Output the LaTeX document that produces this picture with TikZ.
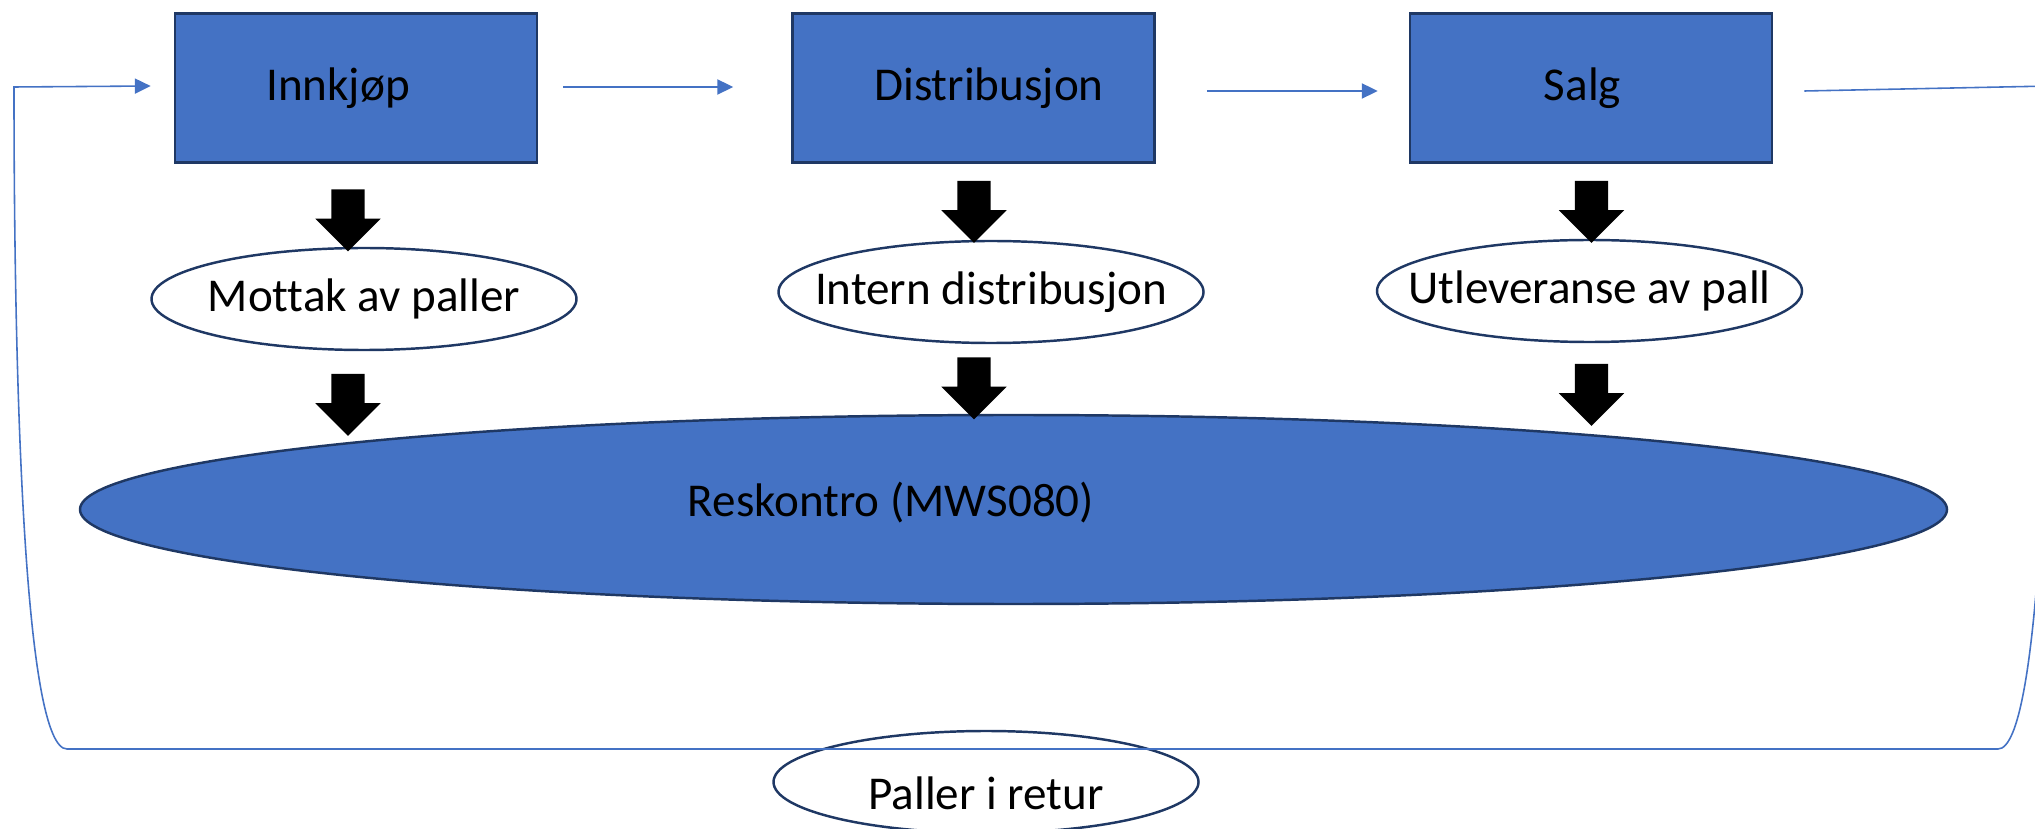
\documentclass[tikz,border=0pt]{standalone}
\usepackage{fontspec}
\setmainfont{Carlito}[Ligatures=NoCommon]
\usepackage{tikz}
\usetikzlibrary{shapes,arrows,arrows.meta}
\definecolor{boxblue}{HTML}{4472C4}
\definecolor{navy}{HTML}{1F3864}
\tikzstyle{box} = [rectangle, draw=navy, line width=0.75pt, fill=boxblue,
    minimum width=3.62cm, minimum height=1.49cm, inner sep=0pt]
\tikzstyle{oval} = [ellipse, draw=navy, line width=0.7pt, fill=white,
    minimum width=4.25cm, minimum height=1.02cm, inner sep=0pt]
\tikzstyle{ledger} = [ellipse, draw=navy, line width=0.7pt, fill=boxblue,
    minimum width=18.67cm, minimum height=1.89cm, inner sep=0pt]
\tikzstyle{blockdown} = [single arrow, fill=black, rotate=-90, inner xsep=0pt,
    inner ysep=0.16cm, single arrow head extend=0.16cm, minimum height=0.62cm]
\tikzstyle{flow} = [draw=boxblue, line width=0.45pt,
    -{Triangle[length=4.5pt,width=4.3pt]}]

\begin{document}
\begin{tikzpicture}[node distance=6.175cm, font=\fontsize{13.4}{16}\selectfont]
    \useasboundingbox (0,0) rectangle (20.35,-8.29);
    % Place nodes
    \node [box] (innkjop) at (3.56,-0.88) {\hspace*{-0.36cm}Innkjøp};
    \node [box, right of=innkjop] (distr) {\hspace*{0.31cm}Distribusjon};
    \node [box, right of=distr] (salg) {\hspace*{-0.17cm}Salg};

    \node [oval, below of=innkjop, node distance=2.11cm, xshift=0.08cm,
        label=center:Mottak av paller] (mottak) {};
    \node [oval, below of=distr, node distance=2.04cm, xshift=0.175cm,
        label=center:Intern distribusjon] (intern) {};
    \node [oval, below of=salg, node distance=2.03cm, xshift=-0.015cm,
        label=center:Utleveranse av pall] (utlev) {};

    \node [ledger, label={[xshift=-1.225cm, yshift=0.07cm]center:Reskontro (MWS080)}]
        (reskontro) at (10.135,-5.095) {};
    \node [oval, fill=none, label={[yshift=-0.11cm]center:Paller i retur}]
        (retur) at (9.86,-7.82) {};

    % Block arrows
    \node [blockdown] (a1) at ([xshift=-0.08cm, yshift=-1.24cm]innkjop.center) {};
    \node [blockdown] (a2) at ([xshift=-0.16cm, yshift=-0.975cm]mottak.center) {};
    \node [blockdown] (b1) at ([xshift=0.005cm, yshift=-1.155cm]distr.center) {};
    \node [blockdown] (b2) at ([xshift=-0.17cm, yshift=-0.88cm]intern.center) {};
    \node [blockdown] (c1) at ([xshift=0.005cm, yshift=-1.155cm]salg.center) {};
    \node [blockdown] (c2) at ([xshift=0.02cm, yshift=-0.955cm]utlev.center) {};

    % Draw edges
    \path [flow] ([xshift=0.25cm, yshift=0.01cm]innkjop.east)
        -- ([xshift=-0.58cm, yshift=0.01cm]distr.west);
    \path [flow] ([xshift=0.51cm, yshift=-0.03cm]distr.east)
        -- ([xshift=-0.31cm, yshift=-0.03cm]salg.west);

    % Return loop
    \coordinate (ne) at (20.51,-0.86);
    \coordinate (se) at (19.98,-7.49);
    \coordinate (sw) at (0.67,-7.49);
    \coordinate (nw) at (0.14,-0.87);
    \path [flow] ([xshift=0.31cm, yshift=-0.03cm]salg.east) -- (ne)
        .. controls +(0,-3.14) and +(0.42,0) .. (se) -- (sw)
        .. controls +(-0.42,0) and +(0,-3.13) .. (nw)
        -- ([xshift=-0.23cm, yshift=0.02cm]innkjop.west);
\end{tikzpicture}
\end{document}
